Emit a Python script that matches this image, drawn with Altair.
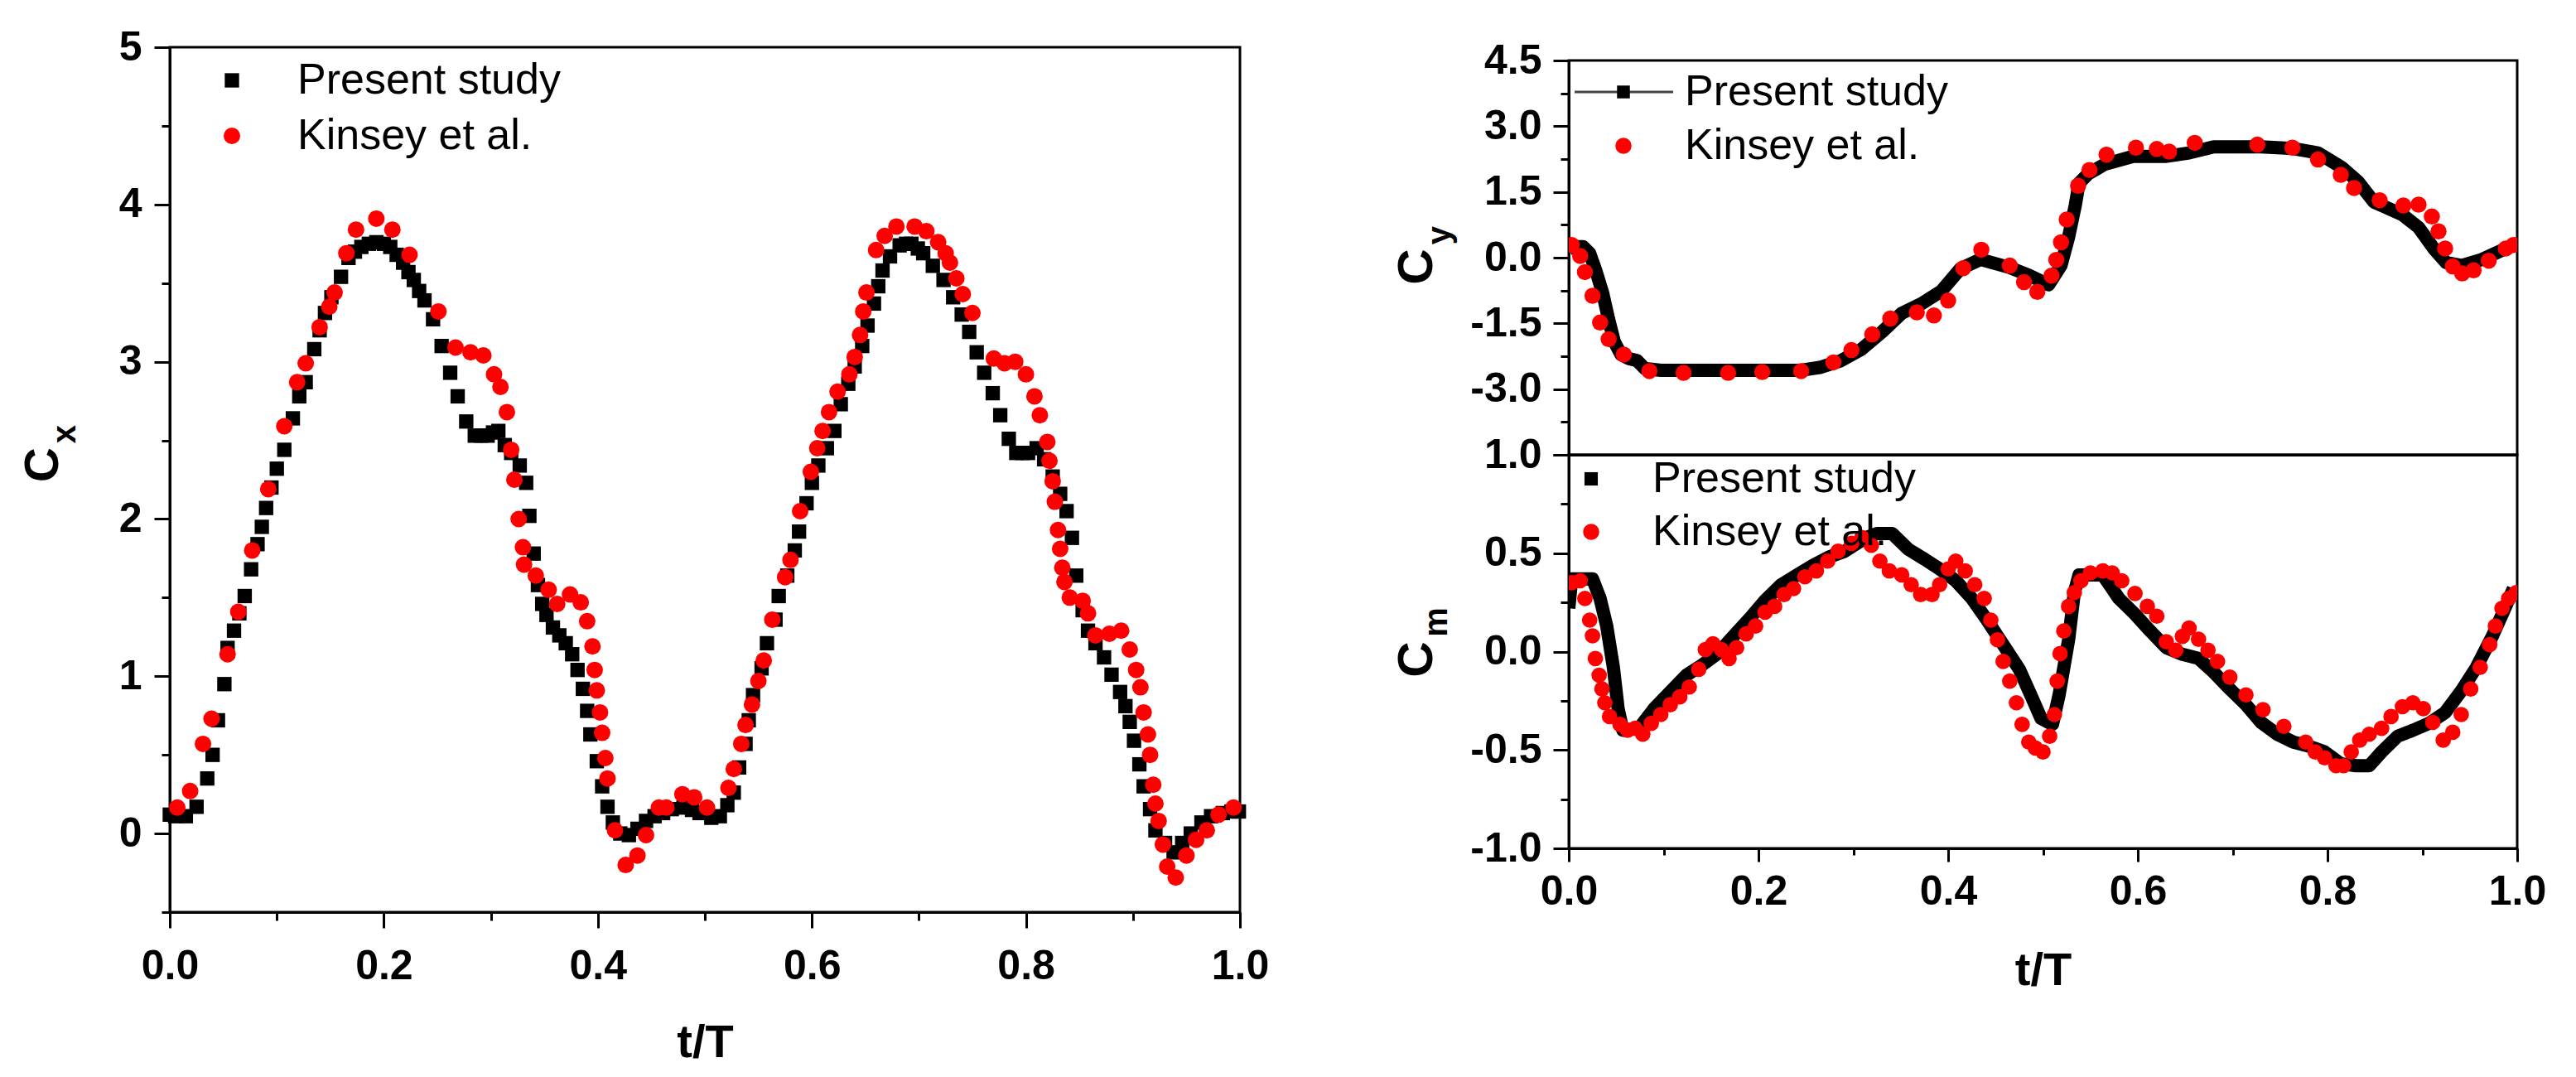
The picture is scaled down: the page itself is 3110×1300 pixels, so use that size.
import altair as alt
import pandas as pd

FONT = "Liberation Sans"

# ---------------- Cx (left panel) ----------------
cx_ps_t = [0.000,0.005,0.015,0.025,0.035,0.040,0.045,0.051,0.054,0.060,
           0.065,0.070,0.076,0.082,0.086,0.090,0.095,0.100,0.107,0.115,
           0.121,0.127,0.135,0.140,0.145,0.151,0.160,0.167,0.173,0.179,
           0.186,0.193,0.200,0.206,0.212,0.218,0.223,0.228,0.233,0.238,
           0.246,0.254,0.262,0.269,0.277,0.285,0.291,0.297,0.302,0.307,
           0.313,0.319,0.327,0.333,0.336,0.340,0.344,0.348,0.352,0.358,
           0.364,0.370,0.376,0.381,0.386,0.390,0.393,0.399,0.404,0.409,
           0.414,0.421,0.429,0.437,0.445,0.453,0.461,0.469,0.480,0.488,
           0.495,0.506,0.514,0.521,0.527,0.532,0.538,0.541,0.545,0.553,
           0.558,0.566,0.569,0.577,0.584,0.588,0.595,0.600,0.606,0.614,
           0.621,0.627,0.634,0.640,0.647,0.652,0.658,0.662,0.666,0.673,
           0.682,0.688,0.693,0.699,0.704,0.713,0.723,0.732,0.740,0.747,
           0.754,0.761,0.769,0.776,0.784,0.791,0.797,0.802,0.810,0.817,
           0.825,0.832,0.838,0.843,0.847,0.853,0.858,0.865,0.873,0.880,
           0.888,0.893,0.897,0.901,0.906,0.910,0.916,0.921,0.930,0.938,
           0.946,0.954,0.964,0.973,0.984,0.992,0.999]
cx_ps_v = [0.12,0.11,0.11,0.17,0.35,0.50,0.72,0.95,1.18,1.29,
           1.40,1.51,1.68,1.84,1.95,2.07,2.20,2.32,2.44,2.64,
           2.78,2.87,3.08,3.20,3.31,3.41,3.54,3.66,3.70,3.73,
           3.75,3.76,3.75,3.73,3.68,3.63,3.57,3.52,3.45,3.39,
           3.27,3.10,2.93,2.78,2.62,2.53,2.53,2.53,2.55,2.56,
           2.47,2.42,2.34,2.23,2.02,1.78,1.58,1.46,1.39,1.31,
           1.26,1.21,1.14,1.04,0.92,0.78,0.63,0.46,0.30,0.17,
           0.07,0.00,-0.01,0.03,0.08,0.11,0.13,0.155,0.165,0.15,
           0.13,0.10,0.11,0.18,0.26,0.42,0.57,0.72,0.88,1.05,
           1.21,1.36,1.51,1.64,1.80,1.92,2.10,2.23,2.34,2.45,
           2.56,2.73,2.86,2.97,3.10,3.23,3.37,3.48,3.58,3.67,
           3.74,3.75,3.75,3.72,3.69,3.61,3.52,3.41,3.30,3.19,
           3.06,2.93,2.80,2.66,2.51,2.42,2.42,2.42,2.45,2.38,
           2.27,2.16,2.05,1.88,1.64,1.42,1.29,1.21,1.12,1.01,
           0.90,0.81,0.71,0.59,0.44,0.30,0.155,0.02,-0.06,-0.12,
           -0.06,0.00,0.07,0.11,0.13,0.14,0.14]

cx_ki_t = [0.007,0.019,0.031,0.039,0.054,0.064,0.077,0.092,0.107,0.119,
           0.127,0.140,0.149,0.154,0.165,0.174,0.193,0.208,0.224,0.251,
           0.267,0.281,0.293,0.303,0.309,0.315,0.319,0.322,0.326,0.330,
           0.331,0.342,0.354,0.362,0.374,0.384,0.390,0.395,0.397,0.399,
           0.402,0.404,0.407,0.409,0.416,0.426,0.437,0.445,0.457,0.464,
           0.479,0.490,0.502,0.522,0.527,0.534,0.538,0.544,0.550,0.555,
           0.563,0.575,0.580,0.589,0.599,0.605,0.610,0.616,0.624,0.635,
           0.640,0.645,0.648,0.651,0.660,0.668,0.679,0.696,0.707,0.718,
           0.725,0.729,0.735,0.741,0.750,0.770,0.780,0.790,0.800,0.808,
           0.813,0.820,0.822,0.825,0.827,0.830,0.832,0.834,0.836,0.841,
           0.853,0.858,0.865,0.878,0.889,0.897,0.903,0.907,0.910,0.914,
           0.916,0.919,0.921,0.924,0.928,0.932,0.940,0.950,0.959,0.969,
           0.980,0.994]
cx_ki_v = [0.165,0.27,0.57,0.73,1.14,1.41,1.80,2.19,2.59,2.87,
           2.99,3.22,3.35,3.44,3.69,3.84,3.91,3.84,3.68,3.32,
           3.09,3.06,3.04,2.92,2.84,2.68,2.44,2.25,2.00,1.82,
           1.71,1.64,1.55,1.46,1.52,1.47,1.35,1.19,1.04,0.91,
           0.77,0.64,0.48,0.35,0.02,-0.20,-0.14,-0.01,0.165,0.165,
           0.25,0.23,0.165,0.29,0.41,0.57,0.69,0.82,0.97,1.10,
           1.36,1.63,1.74,2.05,2.30,2.45,2.56,2.68,2.81,2.92,
           3.03,3.17,3.32,3.44,3.71,3.80,3.86,3.86,3.83,3.76,
           3.69,3.63,3.53,3.43,3.31,3.02,2.99,3.00,2.92,2.78,
           2.66,2.49,2.37,2.24,2.11,1.93,1.81,1.69,1.60,1.50,
           1.48,1.40,1.26,1.27,1.29,1.17,1.04,0.93,0.77,0.63,
           0.50,0.31,0.19,0.08,-0.07,-0.21,-0.28,-0.14,-0.04,0.02,
           0.12,0.165]

# ---------------- Cy (right top) ----------------
cy_ps_t = [0.000,0.005,0.015,0.022,0.029,0.036,0.042,0.048,0.055,0.063,
           0.072,0.080,0.097,0.160,0.245,0.266,0.287,0.308,0.330,0.351,
           0.372,0.393,0.413,0.434,0.464,0.485,0.506,0.519,0.527,0.534,
           0.538,0.548,0.565,0.595,0.629,0.654,0.680,0.730,0.764,0.790,
           0.815,0.832,0.849,0.879,0.896,0.913,0.925,0.942,0.963,0.985,
           1.000]
cy_ps_v = [0.20,0.25,0.25,0.10,-0.33,-0.83,-1.41,-1.92,-2.21,-2.30,
           -2.35,-2.53,-2.57,-2.57,-2.57,-2.50,-2.35,-2.10,-1.70,-1.27,
           -1.05,-0.76,-0.25,-0.04,-0.22,-0.40,-0.62,-0.18,0.47,1.19,
           1.70,1.92,2.13,2.31,2.31,2.39,2.53,2.53,2.49,2.39,
           2.06,1.74,1.27,0.98,0.69,0.18,-0.11,-0.18,-0.04,0.18,
           0.32]

cy_ki_t = [0.003,0.012,0.017,0.025,0.033,0.042,0.058,0.085,0.121,0.168,
           0.204,0.245,0.279,0.298,0.320,0.339,0.367,0.385,0.400,0.416,
           0.435,0.465,0.480,0.494,0.509,0.514,0.519,0.525,0.537,0.549,
           0.567,0.598,0.620,0.633,0.660,0.726,0.763,0.790,0.814,0.828,
           0.855,0.880,0.896,0.910,0.917,0.924,0.932,0.942,0.954,0.970,
           0.988,0.996]
cy_ki_v = [0.29,0.04,-0.33,-0.87,-1.48,-1.86,-2.21,-2.59,-2.63,-2.63,
           -2.61,-2.59,-2.39,-2.11,-1.75,-1.39,-1.25,-1.32,-0.98,-0.24,
           0.18,-0.18,-0.56,-0.78,-0.41,-0.05,0.35,0.87,1.64,2.00,
           2.35,2.51,2.48,2.42,2.62,2.58,2.51,2.24,1.89,1.59,
           1.31,1.19,1.21,0.94,0.60,0.21,-0.20,-0.36,-0.29,-0.07,
           0.21,0.29]

# ---------------- Cm (right bottom) ----------------
cm_ps_t = [0.000,0.003,0.025,0.033,0.040,0.047,0.052,0.057,0.074,0.090,
           0.110,0.124,0.140,0.157,0.174,0.191,0.207,0.224,0.241,0.258,
           0.274,0.291,0.304,0.314,0.325,0.341,0.358,0.375,0.391,0.408,
           0.425,0.441,0.458,0.475,0.488,0.498,0.510,0.517,0.527,0.533,
           0.538,0.563,0.580,0.597,0.613,0.630,0.647,0.664,0.680,0.697,
           0.714,0.730,0.747,0.764,0.780,0.797,0.814,0.830,0.844,0.857,
           0.874,0.890,0.907,0.924,0.941,0.957,0.974,0.987,0.996]
cm_ps_v = [0.22,0.37,0.37,0.27,0.13,-0.08,-0.29,-0.40,-0.39,-0.29,
           -0.19,-0.12,-0.07,-0.01,0.08,0.17,0.26,0.34,0.39,0.44,
           0.48,0.51,0.55,0.58,0.60,0.60,0.52,0.47,0.42,0.36,
           0.27,0.16,0.035,-0.09,-0.23,-0.34,-0.37,-0.22,0.06,0.30,
           0.39,0.39,0.27,0.19,0.105,0.02,-0.014,-0.035,-0.105,-0.19,
           -0.27,-0.36,-0.42,-0.46,-0.48,-0.51,-0.57,-0.58,-0.58,-0.51,
           -0.43,-0.40,-0.365,-0.31,-0.20,-0.08,0.08,0.22,0.32]

cm_ki_t = [0.003,0.012,0.017,0.022,0.025,0.028,0.032,0.035,0.038,0.043,
           0.054,0.062,0.070,0.078,0.087,0.097,0.107,0.117,0.127,0.137,
           0.144,0.152,0.161,0.169,0.177,0.187,0.197,0.207,0.217,0.227,
           0.237,0.249,0.261,0.273,0.284,0.298,0.309,0.319,0.328,0.338,
           0.351,0.361,0.371,0.383,0.391,0.400,0.408,0.418,0.428,0.438,
           0.445,0.452,0.458,0.465,0.472,0.478,0.485,0.492,0.500,0.507,
           0.512,0.515,0.518,0.522,0.527,0.533,0.540,0.550,0.563,0.573,
           0.583,0.597,0.610,0.620,0.630,0.640,0.647,0.654,0.664,0.674,
           0.684,0.697,0.714,0.732,0.754,0.777,0.787,0.797,0.809,0.817,
           0.825,0.834,0.844,0.857,0.867,0.879,0.890,0.901,0.911,0.922,
           0.932,0.941,0.951,0.961,0.971,0.977,0.984,0.991,0.999]
cm_ki_v = [0.35,0.36,0.27,0.16,0.08,-0.035,-0.12,-0.19,-0.26,-0.33,
           -0.37,-0.40,-0.39,-0.42,-0.365,-0.32,-0.27,-0.23,-0.18,-0.09,
           0.01,0.04,0.01,-0.035,0.02,0.09,0.13,0.20,0.23,0.29,
           0.32,0.38,0.41,0.46,0.51,0.55,0.58,0.54,0.46,0.41,
           0.39,0.34,0.29,0.29,0.34,0.42,0.46,0.41,0.34,0.27,
           0.16,0.06,-0.05,-0.15,-0.26,-0.37,-0.46,-0.49,-0.51,-0.43,
           -0.32,-0.15,-0.01,0.105,0.23,0.30,0.36,0.40,0.41,0.40,
           0.36,0.295,0.23,0.18,0.05,0.007,0.077,0.12,0.063,0.007,
           -0.05,-0.13,-0.22,-0.295,-0.38,-0.46,-0.51,-0.54,-0.58,-0.58,
           -0.51,-0.45,-0.42,-0.39,-0.33,-0.28,-0.26,-0.29,-0.36,-0.45,
           -0.41,-0.32,-0.19,-0.08,0.035,0.13,0.22,0.27,0.30]

legend_labels = ["Present study", "Kinsey et al."]
x_ticks = [round(i * 0.1, 1) for i in range(11)]
cx_ticks = [round(-0.5 + i * 0.5, 2) for i in range(12)]
cy_ticks = [round(-4.5 + i * 0.75, 2) for i in range(13)]
cm_ticks = [round(-1.0 + i * 0.25, 2) for i in range(9)]

# ---------------- helpers ----------------
def frame(t, v):
    return pd.DataFrame({"t": t, "v": v})

one = pd.DataFrame({"k": [0]})

def minor(step):
    return f"abs(datum.value/{step} - round(datum.value/{step})) > 0.01"

def fmt_expr(step, dec, hide_below=None):
    lab = "(datum.value < 0 ? '-' : '') + format(abs(datum.value), '.%df')" % dec
    cond = minor(step)
    if hide_below is not None:
        cond = f"({cond}) || datum.value < {hide_below}"
    return f"{cond} ? '' : {lab}"

def xaxis(major_len, minor_len, label_pad, title_pad, show=True):
    if not show:
        return alt.Axis(ticks=False, labels=False, title=None, domain=True)
    return alt.Axis(values=x_ticks, labelExpr=fmt_expr(0.2, 1),
                    tickSize={"condition": {"test": minor(0.2), "value": minor_len}, "value": major_len},
                    labelPadding=label_pad, title="t/T", titlePadding=title_pad)

def yaxis(values, step, dec, major_len, minor_len, label_pad, hide_below=None):
    return alt.Axis(values=values, labelExpr=fmt_expr(step, dec, hide_below),
                    tickSize={"condition": {"test": minor(step), "value": minor_len}, "value": major_len},
                    labelPadding=label_pad, title=None)

def txt(s, x, y, size, weight="normal", angle=0, align="left"):
    return alt.Chart(one).mark_text(text=s, font=FONT, fontSize=size, fontWeight=weight,
                                    angle=angle, align=align, baseline="middle",
                                    color="black").encode(x=alt.value(x), y=alt.value(y))

def sym_square(x, y, size):
    return alt.Chart(one).mark_square(size=size, color="black", opacity=1).encode(
        x=alt.value(x), y=alt.value(y))

def sym_circle(x, y, size):
    return alt.Chart(one).mark_circle(size=size, color="#ff0000", opacity=1).encode(
        x=alt.value(x), y=alt.value(y))

XS = alt.Scale(domain=[0, 1], nice=False, zero=False)
LEG = 52

# ---------------- left panel ----------------
WL, HL = 1292, 1044
xL = alt.X("t:Q", scale=XS, axis=xaxis(19, 10, 21, 40))
yL = alt.Y("v:Q", scale=alt.Scale(domain=[-0.5, 5], nice=False, zero=False),
           axis=yaxis(cx_ticks, 1, 0, 19, 10, 15))

left = alt.layer(
    alt.Chart(frame(cx_ps_t, cx_ps_v)).mark_square(size=300, color="black", opacity=1).encode(x=xL, y=yL),
    alt.Chart(frame(cx_ki_t, cx_ki_v)).mark_circle(size=400, color="#ff0000", opacity=1).encode(x=xL, y=yL),
    sym_square(75, 40, 300), txt(legend_labels[0], 154, 40, LEG),
    sym_circle(75, 107, 400), txt(legend_labels[1], 154, 107, LEG),
    txt("C", -152, 504, 58, "bold", 270, "center"),
    txt("x", -126, 467, 40, "bold", 270, "center"),
).properties(width=WL, height=HL)

# ---------------- right panels ----------------
WR, HT, HB = 1145, 476, 475
xT = alt.X("t:Q", scale=XS, axis=xaxis(0, 0, 0, 0, show=False))
yT = alt.Y("v:Q", scale=alt.Scale(domain=[-4.5, 4.5], nice=False, zero=False),
           axis=yaxis(cy_ticks, 1.5, 1, 19, 10, 14, hide_below=-4.4))

top = alt.layer(
    alt.Chart(frame(cy_ps_t, cy_ps_v)).mark_line(color="black", strokeWidth=16, clip=True,
                                                  strokeJoin="round").encode(x=xT, y=yT),
    alt.Chart(frame(cy_ki_t, cy_ki_v)).mark_circle(size=380, color="#ff0000", opacity=1, clip=True).encode(x=xT, y=yT),
    alt.Chart(one).mark_rule(color="#444444", strokeWidth=3).encode(
        x=alt.value(7), x2=alt.value(126), y=alt.value(38)),
    sym_square(66, 38, 240), txt(legend_labels[0], 140, 38, LEG),
    sym_circle(66, 103, 380), txt(legend_labels[1], 140, 103, LEG),
    txt("C", -183, 249, 60, "bold", 270, "center"),
    txt("y", -155, 211, 40, "bold", 270, "center"),
).properties(width=WR, height=HT)

xB = alt.X("t:Q", scale=XS, axis=xaxis(16, 8, 11, 43))
yB = alt.Y("v:Q", scale=alt.Scale(domain=[-1, 1], nice=False, zero=False),
           axis=yaxis(cm_ticks, 0.5, 1, 19, 10, 14))

bottom = alt.layer(
    alt.Chart(frame(cm_ps_t, cm_ps_v)).mark_line(color="black", strokeWidth=16, clip=True,
                                                  strokeJoin="round").encode(x=xB, y=yB),
    alt.Chart(frame(cm_ki_t, cm_ki_v)).mark_circle(size=350, color="#ff0000", opacity=1, clip=True).encode(x=xB, y=yB),
    sym_square(27, 29, 260), txt(legend_labels[0], 101, 29, LEG),
    sym_circle(27, 93, 380), txt(legend_labels[1], 101, 93, LEG),
    txt("C", -183, 247, 60, "bold", 270, "center"),
    txt("m", -159, 202, 40, "bold", 270, "center"),
).properties(width=WR, height=HB)

spacer = alt.Chart(one).mark_point(opacity=0).encode(
    x=alt.value(0), y=alt.value(0)
).properties(width=WR, height=16, view=alt.ViewBackground(stroke="transparent"))

right = alt.vconcat(spacer, top, bottom, spacing=0, bounds="flush")

chart = alt.hconcat(left, right, spacing=145).properties(
    padding={"left": 14, "top": 22, "right": 5, "bottom": 5},
    background="white",
).configure_view(
    stroke="black", strokeWidth=3
).configure_axis(
    grid=False, domainColor="black", domainWidth=3, tickColor="black", tickWidth=3,
    labelFont=FONT, labelFontSize=50, labelFontWeight="bold", labelColor="black",
    labelFlush=False, labelOverlap=False,
    titleFont=FONT, titleFontSize=56, titleFontWeight="bold", titleColor="black"
)

chart.save("out.html", embed_options={"renderer": "svg", "actions": False})
